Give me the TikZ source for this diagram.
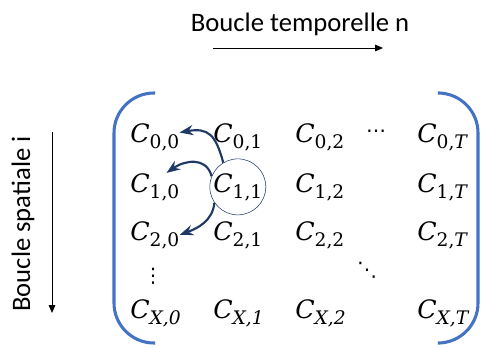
\documentclass[tikz,border=0pt]{standalone}
\usepackage{fontspec}
\setmainfont{Carlito}
\newfontfamily\cellfont{DejaVu Serif}
\newfontfamily\dotfont{DejaVu Sans}
\usetikzlibrary{arrows.meta}
\definecolor{bracketblue}{HTML}{4472C4}
\definecolor{loopnavy}{HTML}{203864}
\newcommand{\cel}[2]{{\cellfont\fontsize{19}{19}\selectfont\itshape C}\raisebox{-4.5pt}{\cellfont\fontsize{14}{14}\selectfont #1,#2}}

\begin{document}
\begin{tikzpicture}[x=0.75pt, y=0.75pt, >=Stealth]
		\tikzset{
			cell/.style={anchor=base west, inner sep=0pt},
			lbl/.style={font=\fontsize{20}{24}\selectfont, inner sep=0pt},
			dotsym/.style={font=\dotfont\fontsize{15}{15}\selectfont, inner sep=0pt},
			bracket/.style={bracketblue, line width=2.3pt, rounded corners=30pt},
			dep/.style={->, loopnavy, line width=1.6pt}
		}
		\useasboundingbox (0,0) rectangle (481,347);

		% Loop labels and arrows
		\node[lbl] (tlabel) at (300,323) {Boucle temporelle n};
		\coordinate (tstart) at (213,299);
		\coordinate (tend) at (383,299);
		\draw[-{Triangle[length=6pt,width=5pt]}, semithick] (tstart) -- (tend);

		\node[lbl, rotate=90] (slabel) at (23,123) {Boucle spatiale i};
		\coordinate (sstart) at (52,215);
		\coordinate (send) at (52,34);
		\draw[-{Triangle[length=6pt,width=5pt]}, semithick] (sstart) -- (send);

		% Matrix brackets
		\draw[bracket] (155,254) -| (114,4) -- (155,4);
		\draw[bracket] (440,254) -| (478,4) -- (440,4);

		% Row 0
		\node[cell] (c00) at (130,205) {\cel{0}{0}};
		\node[cell] (c01) at (213,205) {\cel{0}{1}};
		\node[cell] (c02) at (295,205) {\cel{0}{2}};
		\node[dotsym] (hdots) at (376,213) {⋯};
		\node[cell] (c0T) at (417,205) {\cel{0}{\itshape T}};

		% Row 1
		\node[cell] (c10) at (130,155) {\cel{1}{0}};
		\node[cell] (c11) at (213,155) {\cel{1}{1}};
		\node[cell] (c12) at (295,155) {\cel{1}{2}};
		\node[cell] (c1T) at (417,155) {\cel{1}{\itshape T}};

		% Row 2
		\node[cell] (c20) at (130,107) {\cel{2}{0}};
		\node[cell] (c21) at (213,107) {\cel{2}{1}};
		\node[cell] (c22) at (295,107) {\cel{2}{2}};
		\node[cell] (c2T) at (417,107) {\cel{2}{\itshape T}};

		% Dots
		\node[dotsym] (vdots) at (153,71) {⋮};
		\node[dotsym] (ddots) at (367,77) {⋱};

		% Row X
		\node[cell] (cX0) at (130,29) {\cel{\itshape X}{0}};
		\node[cell] (cX1) at (213,29) {\cel{\itshape X}{1}};
		\node[cell] (cX2) at (295,29) {\cel{\itshape X}{2}};
		\node[cell] (cXT) at (417,29) {\cel{\itshape X}{\itshape T}};

		% Current cell and its dependencies
		\node[draw=loopnavy, thin, circle, minimum size=42pt] (ring) at (c11.center) {};
		\draw[dep] (ring.121) to[out=105, in=10, looseness=1.4] (c00.10);
		\draw[dep] (ring.158) to[out=105, in=35, looseness=1.2] (c10.50);
		\draw[dep] (ring.214) to[out=-95, in=20] (c20.east);
	\end{tikzpicture}
\end{document}
